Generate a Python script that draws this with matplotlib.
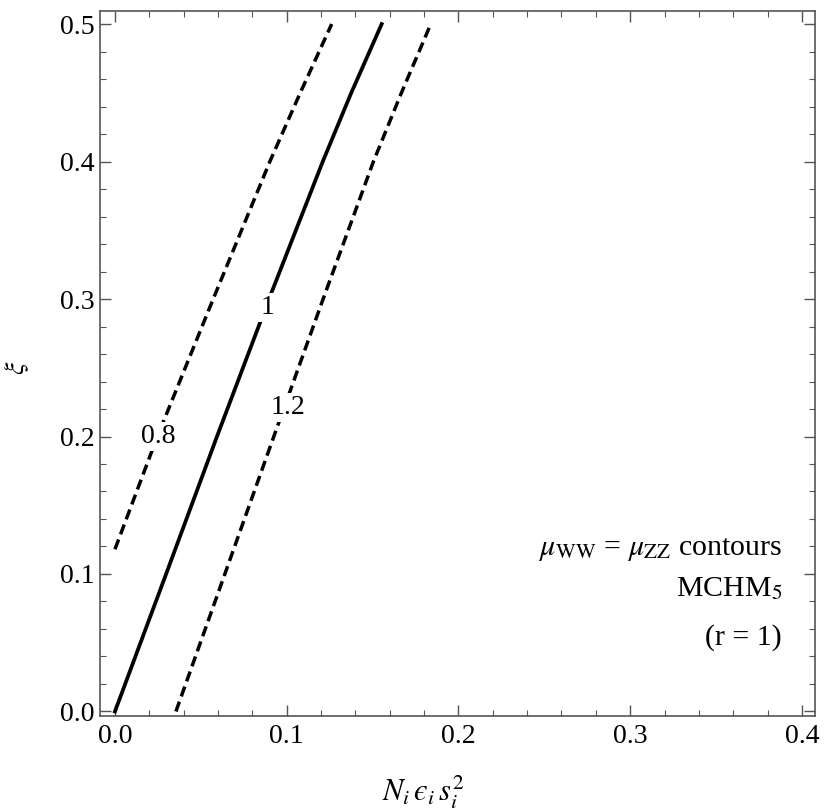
import matplotlib
matplotlib.use("Agg")
import matplotlib.pyplot as plt
from matplotlib.ticker import MultipleLocator

plt.rcParams['font.family'] = ['Liberation Serif', 'DejaVu Serif']
plt.rcParams['mathtext.fontset'] = 'stix'
plt.rcParams['lines.scale_dashes'] = False

# Contour mu_WW = mu_ZZ = 0.8
x_08 = [0.0, 0.0247, 0.0572, 0.0902, 0.1079, 0.1262]
y_08 = [0.118, 0.2, 0.3, 0.4, 0.45, 0.5]

# Contour mu_WW = mu_ZZ = 1
x_10 = [0.0, 0.0298, 0.0594, 0.0897, 0.1210, 0.1376, 0.1553]
y_10 = [0.0, 0.1, 0.2, 0.3, 0.4, 0.45, 0.5]

# Contour mu_WW = mu_ZZ = 1.2
x_12 = [0.0355, 0.064, 0.0925, 0.1212, 0.1505, 0.1668, 0.1839]
y_12 = [0.0, 0.1, 0.2, 0.3, 0.4, 0.45, 0.5]

contour_labels = ["0.8", "1", "1.2"]
label_x = [0.025, 0.0887, 0.1006]
label_y = [0.200, 0.294, 0.221]

fig = plt.figure(figsize=(8.27, 8.11), dpi=100)
ax = fig.add_axes([100/827, 1 - 716/811, 715/827, 705/811])

dash = (7.5, 4.0)
ax.plot(x_08, y_08, color='black', lw=2.5, dashes=dash, dash_capstyle='butt')
ax.plot(x_10, y_10, color='black', lw=2.7)
ax.plot(x_12, y_12, color='black', lw=2.5, dashes=dash, dash_capstyle='butt')

for t, lx, ly in zip(contour_labels, label_x, label_y):
    ax.text(lx, ly, t, fontsize=20, ha='center', va='center', zorder=5,
            bbox=dict(facecolor='white', edgecolor='none', pad=1.5))

ax.set_xlim(-0.0087, 0.4076)
ax.set_ylim(-0.0033, 0.5095)

ax.xaxis.set_major_locator(MultipleLocator(0.1))
ax.xaxis.set_minor_locator(MultipleLocator(0.02))
ax.yaxis.set_major_locator(MultipleLocator(0.1))
ax.yaxis.set_minor_locator(MultipleLocator(0.02))
ax.xaxis.set_major_formatter(plt.FuncFormatter(lambda v, p: f"{v:.1f}"))
ax.yaxis.set_major_formatter(plt.FuncFormatter(lambda v, p: f"{v:.1f}"))

ax.tick_params(which='both', direction='in', top=True, right=True, color='#555555')
ax.tick_params(which='major', length=8, width=1.0, labelsize=20, pad=6)
ax.tick_params(which='minor', length=4.5, width=0.8)
ax.tick_params(axis='y', which='major', pad=4)
for s in ax.spines.values():
    s.set_color('#555555')
    s.set_linewidth(1.2)

ax.set_xlabel('$N_i\\,\u03f5_i\\,s_i^2$', fontsize=22)
ax.xaxis.set_label_coords(0.452, -0.082)
ax.set_ylabel(r'$\xi$', fontsize=20)
ax.yaxis.set_label_coords(-0.0965, 0.494)

ax.text(0.3885, 0.118, r'$\mu_{\mathrm{WW}}$ = $\mu_{\mathrm{ZZ}}$ contours', fontsize=21.5,
        ha='right', va='center')
ax.text(0.3885, 0.0895, r'MCHM$_5$', fontsize=21.5, ha='right', va='center')
ax.text(0.3885, 0.054, '(r = 1)', fontsize=21.5, ha='right', va='center')

fig.savefig('out.png', dpi=100)
